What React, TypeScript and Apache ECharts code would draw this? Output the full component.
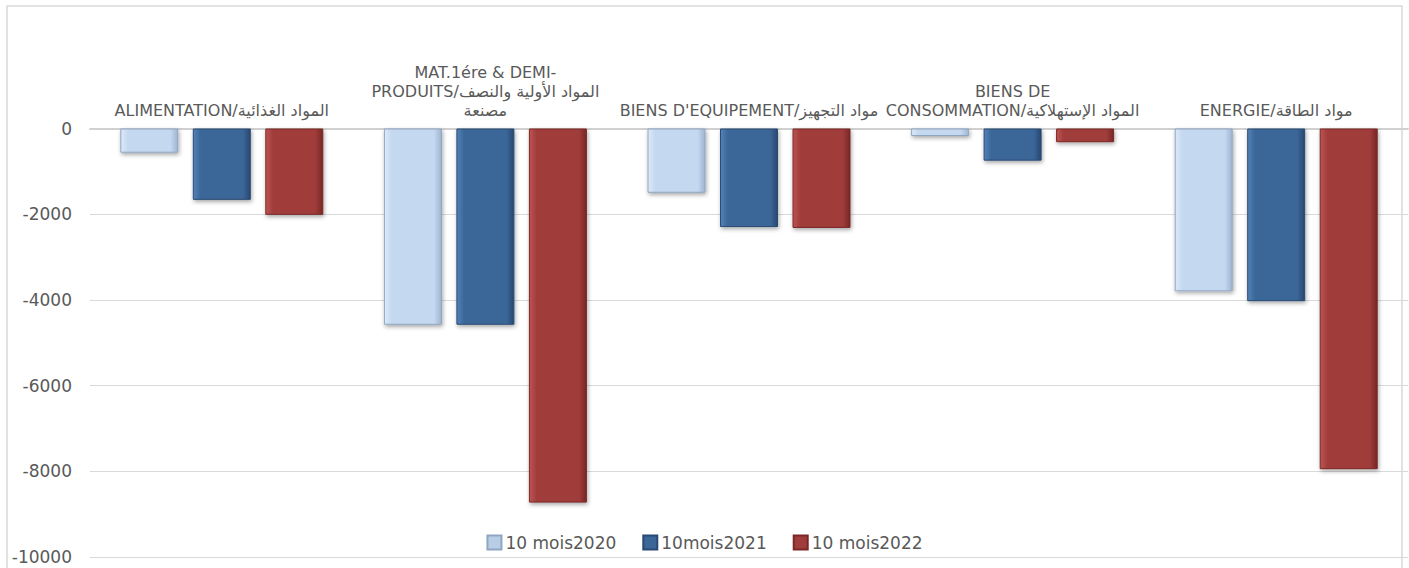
import React, { useEffect, useRef } from "react";
import * as echarts from "echarts";

const categories = [
  "ALIMENTATION/المواد الغذائية",
  "MAT.1ére & DEMI-\nPRODUITS/المواد الأولية والنصف\nمصنعة",
  "BIENS D'EQUIPEMENT/مواد التجهيز",
  "BIENS DE\nCONSOMMATION/المواد الإستهلاكية",
  "ENERGIE/مواد الطاقة",
];
const seriesNames = ["10 mois2020", "10mois2021", "10 mois2022"];
const values2020 = [-565, -4580, -1500, -175, -3800];
const values2021 = [-1665, -4580, -2300, -750, -4030];
const values2022 = [-2015, -8730, -2320, -320, -7950];
const yTicks = { min: -10000, max: 0, interval: 2000 };

const palettes = [
  { left: "#dde9f7", base: "#c4d8f0", right: "#9fb4cf", border: "#8fa6c2", legend: "#b9cde6" },
  { left: "#5282b8", base: "#3b6698", right: "#284870", border: "#2a4a73", legend: "#3b6698" },
  { left: "#bd5553", base: "#a03c3b", right: "#782726", border: "#7a2826", legend: "#a03c3b" },
];

function grad(p: any) {
  return new echarts.graphic.LinearGradient(0, 0, 1, 0, [
    { offset: 0, color: p.left },
    { offset: 0.13, color: p.base },
    { offset: 0.87, color: p.base },
    { offset: 1, color: p.right },
  ]);
}

export default function App() {
  const ref = useRef<HTMLDivElement>(null);
  useEffect(() => {
    if (!ref.current) return;
    const chart = echarts.init(ref.current, null, { renderer: "svg" });
    const font = "DejaVu Sans";
    const data = [values2020, values2021, values2022];
    chart.setOption({
      animation: false,
      backgroundColor: "#ffffff",
      textStyle: { fontFamily: font },
      graphic: [
        {
          type: "rect",
          shape: { x: 7, y: 6, width: 1395, height: 570 },
          style: { fill: "none", stroke: "#d9d9d9", lineWidth: 1.5 },
          z: -1,
          silent: true,
        },
      ],
      grid: { left: 90, right: 1, top: 128.5, bottom: 11, containLabel: false },
      legend: {
        data: seriesNames.map((n, i) => ({ name: n, itemStyle: { color: palettes[i].legend } })),
        left: "center",
        top: 529,
        icon: "rect",
        itemWidth: 14,
        itemHeight: 14,
        itemGap: 26,
        textStyle: { fontFamily: font, fontSize: 17, color: "#595959", padding: [0, 0, 0, -1] },
      },
      xAxis: {
        type: "category",
        position: "top",
        data: categories,
        axisTick: { show: false },
        axisLine: { show: true, lineStyle: { color: "#d0d0d0", width: 2 } },
        axisLabel: {
          interval: 0,
          margin: 9,
          fontFamily: font,
          fontSize: 16,
          lineHeight: 19,
          color: "#595959",
        },
      },
      yAxis: {
        type: "value",
        min: yTicks.min,
        max: yTicks.max,
        interval: yTicks.interval,
        axisLine: { show: false },
        axisTick: { show: false },
        splitLine: { lineStyle: { color: "#d9d9d9", width: 1 } },
        axisLabel: {
          fontFamily: font,
          fontSize: 17,
          color: "#595959",
          margin: 18,
          formatter: (v: number) => String(v),
        },
      },
      series: data.map((vals, i) => ({
        name: seriesNames[i],
        type: "bar",
        data: vals,
        barWidth: 58,
        barGap: "25%",
        itemStyle: {
          color: grad(palettes[i]),
          borderColor: palettes[i].border,
          borderWidth: 1,
          shadowColor: "rgba(0,0,0,0.35)",
          shadowBlur: 4,
          shadowOffsetX: 1,
          shadowOffsetY: 2,
        },
      })),
    });
    return () => chart.dispose();
  }, []);
  return (
    <div
      ref={ref}
      style={{ position: "fixed", left: 0, top: 0, width: 1409, height: 568 }}
    />
  );
}
